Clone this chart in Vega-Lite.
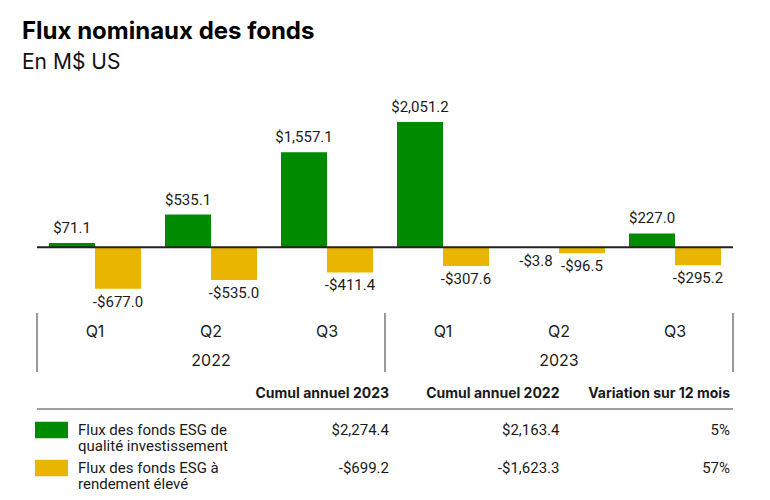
{
  "$schema": "https://vega.github.io/schema/vega-lite/v6.json",
  "background": "white",
  "padding": {"left": 22, "top": 20, "right": 0, "bottom": 0},
  "title": {
    "text": "Flux nominaux des fonds",
    "subtitle": "En M$ US",
    "anchor": "start",
    "frame": "group",
    "dx": -15,
    "offset": 23,
    "font": "Inter",
    "fontSize": 24,
    "fontWeight": "bold",
    "color": "#000000",
    "subtitleFont": "Inter",
    "subtitleFontSize": 21,
    "subtitleFontWeight": "normal",
    "subtitleColor": "#111111",
    "subtitlePadding": 8
  },
  "spacing": 0,
  "config": {"view": {"stroke": null}, "concat": {"spacing": 0}},
  "resolve": {"scale": {"x": "independent", "y": "independent", "color": "independent"}},
  "datasets": {
    "flows": [
      {"period": "2022-Q1", "series": "ig", "value": 71.1},
      {"period": "2022-Q1", "series": "hy", "value": -677.0},
      {"period": "2022-Q2", "series": "ig", "value": 535.1},
      {"period": "2022-Q2", "series": "hy", "value": -535.0},
      {"period": "2022-Q3", "series": "ig", "value": 1557.1},
      {"period": "2022-Q3", "series": "hy", "value": -411.4},
      {"period": "2023-Q1", "series": "ig", "value": 2051.2},
      {"period": "2023-Q1", "series": "hy", "value": -307.6},
      {"period": "2023-Q2", "series": "ig", "value": -3.8},
      {"period": "2023-Q2", "series": "hy", "value": -96.5},
      {"period": "2023-Q3", "series": "ig", "value": 227.0},
      {"period": "2023-Q3", "series": "hy", "value": -295.2}
    ],
    "cats": [
      {"period": "2022-Q1", "row": "q", "text": "Q1"},
      {"period": "2022-Q2", "row": "q", "text": "Q2"},
      {"period": "2022-Q3", "row": "q", "text": "Q3"},
      {"period": "2023-Q1", "row": "q", "text": "Q1"},
      {"period": "2023-Q2", "row": "q", "text": "Q2"},
      {"period": "2023-Q3", "row": "q", "text": "Q3"},
      {"period": "2022-Q2", "row": "year", "text": "2022"},
      {"period": "2023-Q2", "row": "year", "text": "2023"}
    ],
    "seps": [
      {"period": "2022-Q1", "edge": "start"},
      {"period": "2023-Q1", "edge": "start"},
      {"period": "2023-Q3", "edge": "end"}
    ],
    "table": [
      {"row": "header", "col": "c1", "text": "Cumul annuel 2023"},
      {"row": "header", "col": "c2", "text": "Cumul annuel 2022"},
      {"row": "header", "col": "c3", "text": "Variation sur 12 mois"},
      {"row": "r1", "col": "label", "series": "ig", "text": "Flux des fonds ESG de\nqualité investissement"},
      {"row": "r1", "col": "c1", "text": "$2,274.4"},
      {"row": "r1", "col": "c2", "text": "$2,163.4"},
      {"row": "r1", "col": "c3", "text": "5%"},
      {"row": "r2", "col": "label", "series": "hy", "text": "Flux des fonds ESG à\nrendement élevé"},
      {"row": "r2", "col": "c1", "text": "-$699.2"},
      {"row": "r2", "col": "c2", "text": "-$1,623.3"},
      {"row": "r2", "col": "c3", "text": "57%"}
    ]
  },
  "vconcat": [
    {
      "width": 696,
      "height": 216,
      "layer": [
        {
          "data": {"name": "flows"},
          "transform": [
            {"calculate": "(datum.value < 0 ? '-' : '') + '$' + format(abs(datum.value), ',.1f')", "as": "label"}
          ],
          "encoding": {
            "x": {"field": "period", "type": "nominal", "axis": null,
                  "scale": {"type": "band", "domain": ["2022-Q1", "2022-Q2", "2022-Q3", "2023-Q1", "2023-Q2", "2023-Q3"], "paddingInner": 0, "paddingOuter": 0}},
            "xOffset": {"field": "series", "type": "nominal",
                        "scale": {"type": "band", "domain": ["ig", "hy"], "paddingInner": 0, "paddingOuter": 0.261}},
            "y": {"field": "value", "type": "quantitative", "axis": null,
                  "scale": {"domain": [-1059, 2477], "nice": false}}
          },
          "layer": [
            {
              "mark": {"type": "bar"},
              "encoding": {
                "color": {"field": "series", "type": "nominal", "legend": null,
                          "scale": {"domain": ["ig", "hy"], "range": ["#008a00", "#e9b500"]}}
              }
            },
            {
              "transform": [{"filter": "datum.value >= 0"}],
              "mark": {"type": "text", "baseline": "middle", "dy": -15, "font": "Roboto", "fontSize": 15, "color": "#1a1a1a"},
              "encoding": {"text": {"field": "label"}}
            },
            {
              "transform": [{"filter": "datum.value < 0"}],
              "mark": {"type": "text", "baseline": "middle", "dy": 13, "font": "Roboto", "fontSize": 15, "color": "#1a1a1a"},
              "encoding": {"text": {"field": "label"}}
            }
          ]
        },
        {
          "data": {"values": [{"value": 0}]},
          "mark": {"type": "rule", "color": "#222222", "strokeWidth": 2},
          "encoding": {
            "y": {"field": "value", "type": "quantitative", "scale": {"domain": [-1059, 2477], "nice": false}}
          }
        }
      ]
    },
    {
      "width": 696,
      "height": 59,
      "layer": [
        {
          "data": {"name": "cats"},
          "mark": {"type": "text", "font": "Inter", "fontSize": 16, "color": "#1a1a1a", "baseline": "middle", "dy": 4},
          "encoding": {
            "x": {"field": "period", "type": "nominal", "axis": null,
                  "scale": {"type": "band", "domain": ["2022-Q1", "2022-Q2", "2022-Q3", "2023-Q1", "2023-Q2", "2023-Q3"], "paddingInner": 0, "paddingOuter": 0}},
            "y": {"field": "row", "type": "nominal", "axis": null,
                  "scale": {"type": "band", "domain": ["q", "year"], "paddingInner": 0, "paddingOuter": 0}},
            "text": {"field": "text"}
          }
        },
        {
          "data": {"name": "seps"},
          "transform": [{"filter": "datum.edge == 'start'"}],
          "mark": {"type": "rule", "color": "#999999", "strokeWidth": 2},
          "encoding": {
            "x": {"field": "period", "type": "nominal", "axis": null, "bandPosition": 0,
                  "scale": {"type": "band", "domain": ["2022-Q1", "2022-Q2", "2022-Q3", "2023-Q1", "2023-Q2", "2023-Q3"], "paddingInner": 0, "paddingOuter": 0}}
          }
        },
        {
          "data": {"name": "seps"},
          "transform": [{"filter": "datum.edge == 'end'"}],
          "mark": {"type": "rule", "color": "#999999", "strokeWidth": 2},
          "encoding": {
            "x": {"field": "period", "type": "nominal", "axis": null, "bandPosition": 1,
                  "scale": {"type": "band", "domain": ["2022-Q1", "2022-Q2", "2022-Q3", "2023-Q1", "2023-Q2", "2023-Q3"], "paddingInner": 0, "paddingOuter": 0}}
          }
        }
      ]
    },
    {
      "width": 696,
      "height": 114,
      "data": {"name": "table"},
      "layer": [
        {
          "transform": [{"filter": "datum.row == 'header'"}],
          "mark": {"type": "text", "align": "right", "baseline": "middle", "dy": 2, "font": "Inter", "fontSize": 14, "fontWeight": "bold", "color": "#1a1a1a"},
          "encoding": {
            "x": {"field": "col", "type": "nominal", "axis": null, "bandPosition": 1,
                  "scale": {"type": "band", "domain": ["label", "c1", "c2", "c3"], "paddingInner": 0, "paddingOuter": 0.041, "align": 0.786}},
            "y": {"field": "row", "type": "nominal", "axis": null,
                  "scale": {"type": "band", "domain": ["header", "r1", "r2"], "paddingInner": 0, "paddingOuter": 0}},
            "text": {"field": "text"}
          }
        },
        {
          "transform": [{"filter": "datum.row != 'header' && datum.col != 'label'"}],
          "mark": {"type": "text", "align": "right", "baseline": "middle", "font": "Roboto", "fontSize": 15, "color": "#1a1a1a"},
          "encoding": {
            "x": {"field": "col", "type": "nominal", "axis": null, "bandPosition": 1,
                  "scale": {"type": "band", "domain": ["label", "c1", "c2", "c3"], "paddingInner": 0, "paddingOuter": 0.041, "align": 0.786}},
            "y": {"field": "row", "type": "nominal", "axis": null,
                  "scale": {"type": "band", "domain": ["header", "r1", "r2"], "paddingInner": 0, "paddingOuter": 0}},
            "text": {"field": "text"}
          }
        },
        {
          "transform": [{"filter": "datum.col == 'label'"}],
          "mark": {"type": "text", "align": "left", "baseline": "middle", "dx": 30, "lineBreak": "\n", "lineHeight": 16, "font": "Roboto", "fontSize": 15, "color": "#1a1a1a"},
          "encoding": {
            "x": {"field": "col", "type": "nominal", "axis": null, "bandPosition": 0,
                  "scale": {"type": "band", "domain": ["label", "c1", "c2", "c3"], "paddingInner": 0, "paddingOuter": 0.041, "align": 0.786}},
            "y": {"field": "row", "type": "nominal", "axis": null,
                  "scale": {"type": "band", "domain": ["header", "r1", "r2"], "paddingInner": 0, "paddingOuter": 0}},
            "text": {"field": "text"}
          }
        },
        {
          "transform": [{"filter": "datum.col == 'label'"}],
          "mark": {"type": "point", "shape": "M-1,-0.5H1V0.5H-1Z", "filled": true, "opacity": 1, "size": 1089, "xOffset": 3.5},
          "encoding": {
            "x": {"field": "col", "type": "nominal", "axis": null, "bandPosition": 0,
                  "scale": {"type": "band", "domain": ["label", "c1", "c2", "c3"], "paddingInner": 0, "paddingOuter": 0.041, "align": 0.786}},
            "y": {"field": "row", "type": "nominal", "axis": null,
                  "scale": {"type": "band", "domain": ["header", "r1", "r2"], "paddingInner": 0, "paddingOuter": 0}},
            "color": {"field": "series", "type": "nominal", "legend": null,
                      "scale": {"domain": ["ig", "hy"], "range": ["#008a00", "#e9b500"]}}
          }
        },
        {
          "transform": [{"filter": "datum.row == 'r1' && datum.col == 'label'"}],
          "mark": {"type": "rule", "color": "#a0a0a0", "strokeWidth": 2, "yOffset": -2},
          "encoding": {
            "y": {"field": "row", "type": "nominal", "axis": null, "bandPosition": 0,
                  "scale": {"type": "band", "domain": ["header", "r1", "r2"], "paddingInner": 0, "paddingOuter": 0}}
          }
        }
      ]
    }
  ]
}
